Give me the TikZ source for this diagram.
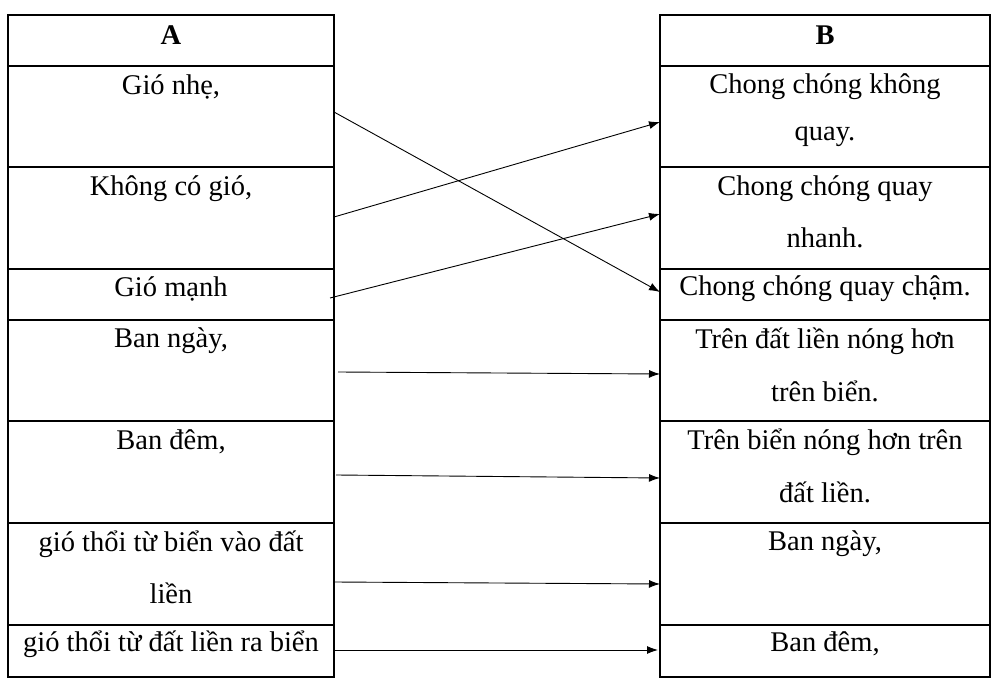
\documentclass[tikz,border=0pt]{standalone}
\usepackage{fontspec}
\setmainfont{Liberation Serif}
\usetikzlibrary{arrows.meta}
\begin{document}
\begin{tikzpicture}[x=1pt,y=-1pt,
  cell/.style={draw=black,line width=1.1pt},
  t/.style={font=\fontsize{28.5}{32}\selectfont,anchor=center,inner sep=0pt},
  conn/.style={line width=0.9pt,-{Latex[length=11pt,width=8pt]}}]
\useasboundingbox (0,0) rectangle (1005,695);
\foreach \y/\h in {15/66,66/167,167/269,269/320,320/421,421/523,523/625,625/677}{
  \draw[cell] (8,\y) rectangle (334,\h);
  \draw[cell] (660,\y) rectangle (990,\h);
}
\node[t] (ha) at (171,35) {\textbf{A}};
\node[t] (hb) at (825,35) {\textbf{B}};
\node[t] (a1) at (171,87) {Gió nhẹ,};
\node[t] (a2) at (171,189) {Không có gió,};
\node[t] (a3) at (171,289) {Gió mạnh};
\node[t] (a4) at (171,341) {Ban ngày,};
\node[t] (a5) at (171,442) {Ban đêm,};
\node[t] (a6) at (171,544) {gió thổi từ biển vào đất};
\node[t] (a6b) at (171,593) {liền};
\node[t] (a7) at (171,644) {gió thổi từ đất liền ra biển};
\node[t] (b1) at (825,87) {Chong chóng không};
\node[t] (b1b) at (825,137) {quay.};
\node[t] (b2) at (825,189) {Chong chóng quay};
\node[t] (b2b) at (825,238) {nhanh.};
\node[t] (b3) at (825,289) {Chong chóng quay chậm.};
\node[t] (b4) at (825,341) {Trên đất liền nóng hơn};
\node[t] (b4b) at (825,391) {trên biển.};
\node[t] (b5) at (825,442) {Trên biển nóng hơn trên};
\node[t] (b5b) at (825,492) {đất liền.};
\node[t] (b6) at (825,544) {Ban ngày,};
\node[t] (b7) at (825,644) {Ban đêm,};
\coordinate (s1) at (334,112); \coordinate (e1) at (660,292);
\coordinate (s2) at (334,217); \coordinate (e2) at (660,122);
\coordinate (s3) at (330,298); \coordinate (e3) at (660,214);
\coordinate (s4) at (338,372); \coordinate (e4) at (660,374);
\coordinate (s5) at (336,475); \coordinate (e5) at (660,478);
\coordinate (s6) at (334,582); \coordinate (e6) at (660,584);
\coordinate (s7) at (334,650); \coordinate (e7) at (658,650);
\foreach \i in {1,...,7}{\draw[conn] (s\i) -- (e\i);}
\end{tikzpicture}
\end{document}
